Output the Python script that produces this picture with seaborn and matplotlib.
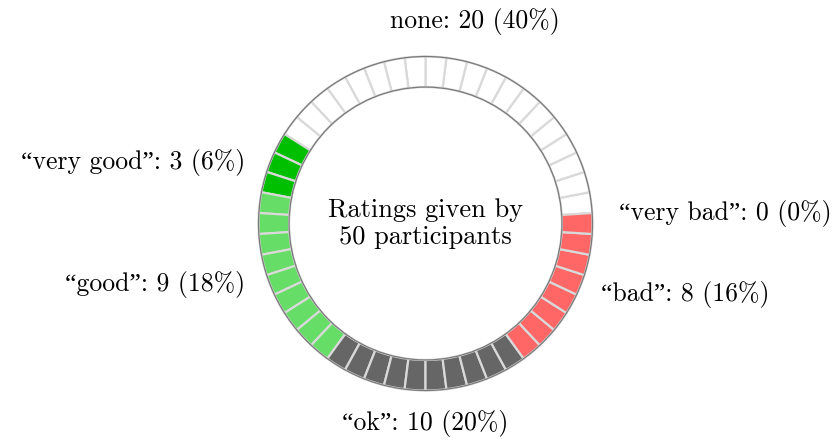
import matplotlib
matplotlib.use("Agg")
import matplotlib.pyplot as plt
from matplotlib.patches import Circle
import numpy as np
import seaborn as sns

# Ratings, in the order they are laid out counter-clockwise around the ring
categories = ["none", "\u201cvery good\u201d", "\u201cgood\u201d", "\u201cok\u201d", "\u201cbad\u201d", "\u201cvery bad\u201d"]
counts = [20, 3, 9, 10, 8, 0]
colors = ["#FFFFFF", "#00BF00", "#66DD66", "#666666", "#FF6666", "#FF0000"]
title_lines = ["Ratings given by", "50 participants"]

sns.set_theme(style="white")
plt.rcParams["font.family"] = ["cmr10", "Liberation Serif", "DejaVu Serif"]
plt.rcParams["axes.formatter.use_mathtext"] = True

total = sum(counts)
start_angle = 90 - 12 * 360 / total  # a segment edge sits exactly at the top
ring_width = 0.183

# One unit wedge per participant, coloured by its rating
unit_values = []
unit_colors = []
for n, c in zip(counts, colors):
    unit_values += [1] * n
    unit_colors += [c] * n

fig = plt.figure(figsize=(8.38, 4.42), dpi=100)
ax = fig.add_axes([0, 0, 1, 1])
ax.pie(unit_values, colors=unit_colors, startangle=start_angle, counterclock=True,
       radius=1.0,
       wedgeprops=dict(width=ring_width, edgecolor="#D9D9D9", linewidth=1.6))

# outer and inner outlines of the ring
for r in (1.0, 1.0 - ring_width):
    ax.add_patch(Circle((0, 0), r, fill=False, edgecolor="#7A7A7A", linewidth=0.9, zorder=5))

ax.set_xlim(-2.548, 2.470)
ax.set_ylim(-1.308, 1.338)
ax.set_aspect("equal")
ax.axis("off")

fs = 18.5
# labels at the middle of each category's arc
acc = 0
for name, n in zip(categories, counts):
    mid = np.deg2rad(start_angle + 360 * (acc + n / 2) / total)
    acc += n
    c, s = np.cos(mid), np.sin(mid)
    text = f"{name}: {n} ({round(100 * n / total)}%)"
    if abs(c) < 0.3:
        x, y, ha = 1.2 * c, 1.2 * s + 0.045 * (s > 0), "center"
    else:
        x, y = 1.16 * c, s
        ha = "left" if c > 0 else "right"
    ax.text(x, y, text, ha=ha, va="center", fontsize=fs, color="black")

ax.text(0, 0, "\n".join(title_lines), ha="center", va="center", fontsize=19,
        linespacing=1.2, color="black")

fig.savefig("out.png", dpi=100, facecolor="white")
